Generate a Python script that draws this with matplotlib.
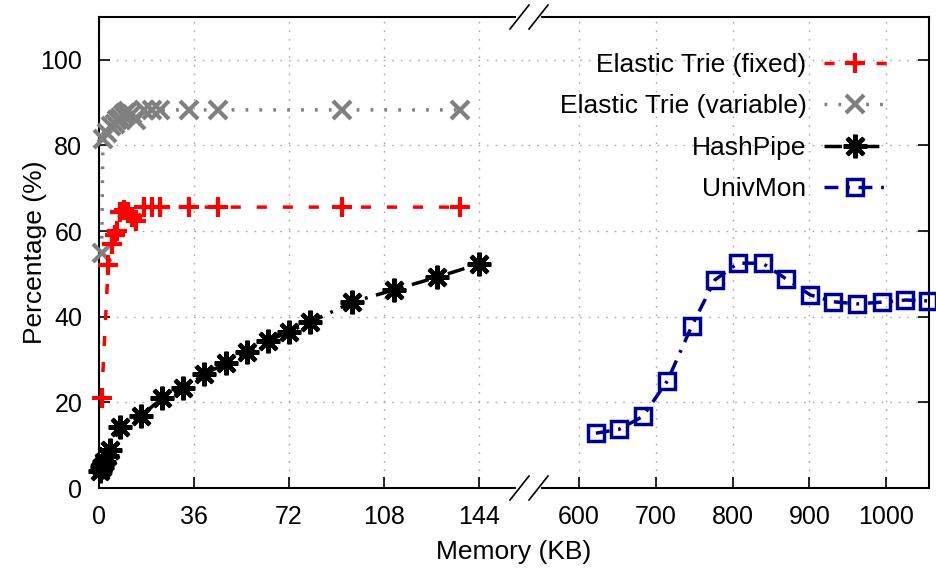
import matplotlib.pyplot as plt
from matplotlib.lines import Line2D

plt.rcParams['font.family'] = ['Liberation Sans', 'DejaVu Sans']

# Elastic Trie (fixed)
fixed_x = [1, 3.5, 5, 6, 7, 8, 9.5, 11, 12.5, 14, 17, 20, 23, 34, 45, 92, 137]
fixed_y = [21, 52, 57, 59, 60, 64.5, 65, 64.5, 63.3, 62.3, 65.6, 65.6, 65.6, 65.6, 65.6, 65.6, 65.6]

# Elastic Trie (variable)
var_x = [1, 1.5, 3, 4.5, 6, 7, 8, 9, 10, 11, 12.5, 14, 17, 20, 23, 34, 45, 92, 137]
var_y = [55, 81.5, 83, 84.5, 85, 86, 86.5, 87, 87.5, 88, 87.3, 86, 88.3, 88.3, 88.3, 88.3, 88.3, 88.3, 88.3]

# HashPipe
hp_x = [0.5, 1, 2, 3, 4, 8, 16, 24, 32, 40, 48, 56, 64, 72, 80, 96, 112, 128, 144]
hp_y = [4.0, 5.0, 6.0, 7.5, 8.9, 14.3, 16.9, 21.0, 23.3, 26.6, 29.1, 31.8, 34.3, 36.5, 38.7, 43.4, 46.3, 49.2, 52.3]

# UnivMon
um_x = [622, 652, 683, 715, 747, 777, 807, 839, 870, 901, 931, 962, 994, 1025, 1055]
um_y = [12.8, 13.7, 16.7, 25.0, 37.9, 48.6, 52.5, 52.5, 48.8, 45.1, 43.5, 43.0, 43.4, 43.9, 43.7]

left_ticks = [0, 36, 72, 108, 144]
right_ticks = [600, 700, 800, 900, 1000]
y_ticks = [0, 20, 40, 60, 80, 100]

W, H = 936, 573
fig = plt.figure(figsize=(W / 100, H / 100), dpi=100)

x0, xm, x1 = 99, 528, 929
ytop, ybot = 17, 488
ax1 = fig.add_axes([x0 / W, 1 - ybot / H, (xm - x0) / W, (ybot - ytop) / H])
ax2 = fig.add_axes([xm / W, 1 - ybot / H, (x1 - xm) / W, (ybot - ytop) / H])

grid_style = dict(color='#a8a8a8', linewidth=1.0, linestyle=(0, (1.2, 5)))

for ax in (ax1, ax2):
    ax.set_ylim(0, 110)
    ax.set_yticks(y_ticks)
    ax.grid(True, **grid_style)
    ax.set_axisbelow(True)
    for s in ax.spines.values():
        s.set_linewidth(1.5)

ax1.set_xlim(0, 162.7)
ax1.set_xticks(left_ticks)
ax1.spines['right'].set_visible(False)
ax1.tick_params(axis='both', direction='in', length=8, width=1.2, labelsize=18, pad=12,
                top=False, right=False)

ax2.set_xlim(533.6, 1055.7)
ax2.set_xticks(right_ticks)
ax2.spines['left'].set_visible(False)
ax2.tick_params(axis='x', direction='in', length=8, width=1.2, labelsize=18, pad=12, top=False)
ax2.tick_params(axis='y', direction='in', length=8, width=1.2, left=False, labelleft=False,
                right=True, labelright=False)

lw = 2.5
ax1.plot(fixed_x, fixed_y, color='#ff0000', lw=lw, linestyle=(0, (2.9, 4.6)),
         marker='+', ms=15, mew=3, clip_on=False, zorder=4)
ax1.plot(var_x, var_y, color='#808080', lw=lw, linestyle=(0, (0.8, 3.2)),
         marker='x', ms=13, mew=3, clip_on=False, zorder=3)
ax1.plot(hp_x, hp_y, color='black', lw=lw, linestyle=(0, (5, 2.5, 0.8, 2.5)),
         marker=(8, 2, 0), ms=17, mew=3, clip_on=False, zorder=5)
ax2.plot(um_x, um_y, color='#000090', lw=lw, linestyle=(0, (4, 2.5, 0.8, 2.5)),
         marker='s', ms=12, mew=2.5, mfc='none', clip_on=False, zorder=5)

handles = [
    Line2D([], [], color='#ff0000', lw=lw, linestyle=(0, (2.9, 4.6)), marker='+', ms=15, mew=3),
    Line2D([], [], color='#808080', lw=lw, linestyle=(0, (0.8, 3.2)), marker='x', ms=13, mew=3),
    Line2D([], [], color='black', lw=lw, linestyle=(0, (5, 2.5, 0.8, 2.5)), marker=(8, 2, 0), ms=17, mew=3),
    Line2D([], [], color='#000090', lw=lw, linestyle=(0, (4, 2.5, 0.8, 2.5)), marker='s', ms=12, mew=2.5, mfc='none'),
]
labels = ['Elastic Trie (fixed)', 'Elastic Trie (variable)', 'HashPipe', 'UnivMon']
leg = ax2.legend(handles, labels, loc='upper right', markerfirst=False, frameon=False,
                 fontsize=19, handlelength=2.4, handletextpad=0.65, labelspacing=0.66,
                 borderpad=0, borderaxespad=0,
                 bbox_to_anchor=((887 - xm) / (x1 - xm), (ybot - 53) / (ybot - ytop)))

# break marks on the x axis
for yb in (ytop, ybot):
    fig.add_artist(Line2D([518 / W, 539 / W], [1 - yb / H, 1 - yb / H], color='white', lw=3))
    for xs in (510, 529):
        fig.add_artist(Line2D([xs / W, (xs + 19) / W], [1 - (yb + 12) / H, 1 - (yb - 12) / H],
                              color='black', lw=1.2))

fig.text(35 / W, 1 - 252 / H, 'Percentage (%)', rotation=90, ha='center', va='center', fontsize=19)
fig.text(514 / W, 1 - 552 / H, 'Memory (KB)', ha='center', va='center', fontsize=19)

fig.savefig('out.png', dpi=100)
